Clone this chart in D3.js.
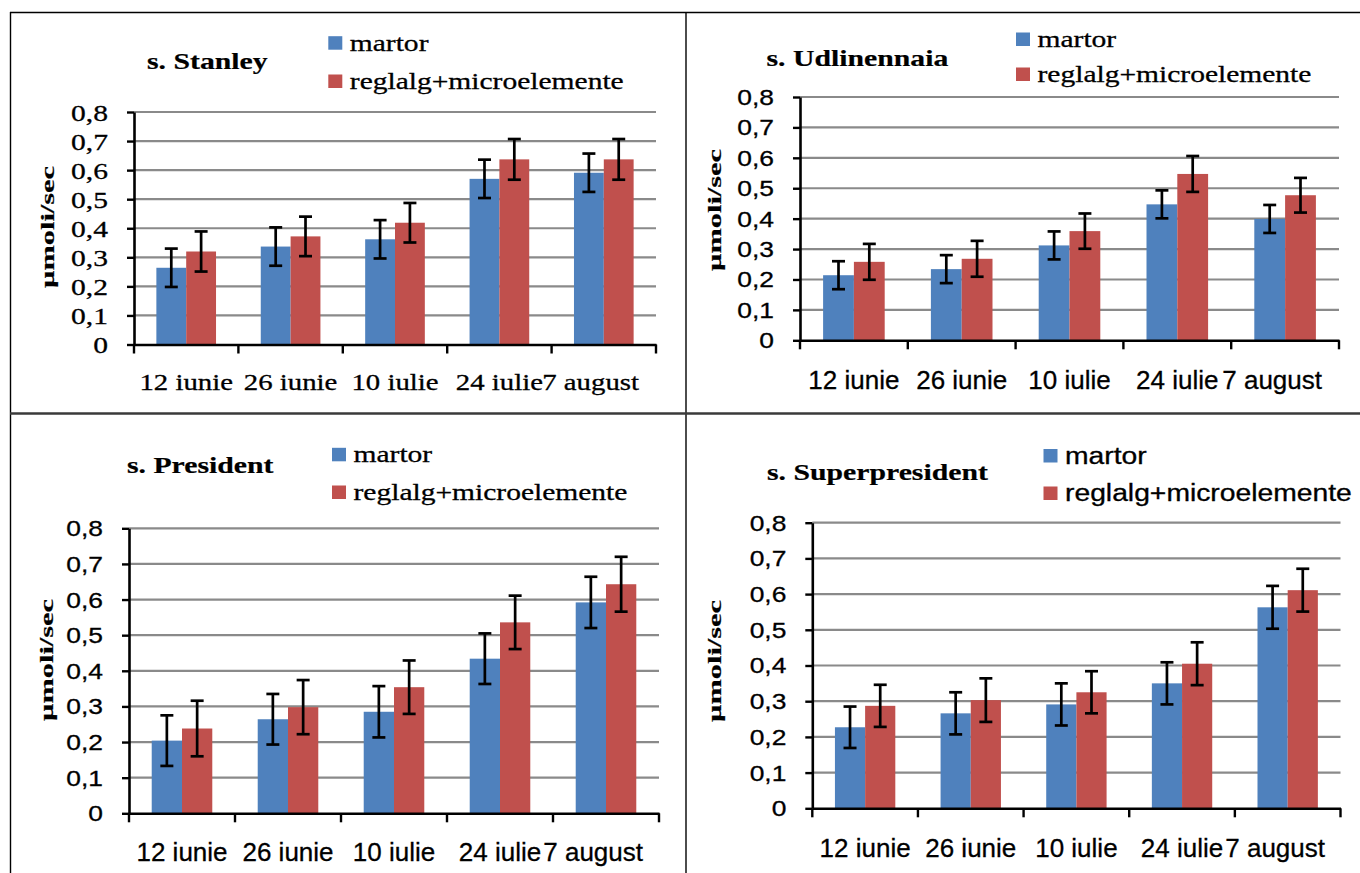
<!DOCTYPE html>
<html>
<head>
<meta charset="utf-8">
<script src="https://cdn.jsdelivr.net/npm/d3@7"></script>
<style>
  body { margin: 0; background: #fff; }
  svg { display: block; }
</style>
</head>
<body>
<svg width="1360" height="873"></svg>
<script>
// categories and labels
const categories = ["12 iunie", "26 iunie", "10 iulie", "24 iulie", "7 august"];
const seriesNames = ["martor", "reglalg+microelemente"];
const yTickValues = [0, 0.1, 0.2, 0.3, 0.4, 0.5, 0.6, 0.7, 0.8];
const yTickLabels = ["0", "0,1", "0,2", "0,3", "0,4", "0,5", "0,6", "0,7", "0,8"];

// s. Stanley
const stanleyMartor = [0.264, 0.337, 0.362, 0.570, 0.591];
const stanleyReglalg = [0.320, 0.372, 0.419, 0.637, 0.637];
const stanleyErrMartor = [0.066, 0.066, 0.066, 0.066, 0.066];
const stanleyErrReglalg = [0.069, 0.068, 0.068, 0.070, 0.070];

// s. Udlinennaia
const udlMartor = [0.214, 0.234, 0.312, 0.447, 0.399];
const udlReglalg = [0.258, 0.268, 0.359, 0.547, 0.477];
const udlErrMartor = [0.046, 0.046, 0.046, 0.046, 0.046];
const udlErrReglalg = [0.059, 0.059, 0.058, 0.059, 0.057];

// s. President
const presMartor = [0.204, 0.264, 0.285, 0.434, 0.592];
const presReglalg = [0.238, 0.298, 0.354, 0.536, 0.643];
const presErrMartor = [0.071, 0.071, 0.072, 0.071, 0.072];
const presErrReglalg = [0.078, 0.076, 0.075, 0.075, 0.077];

// s. Superpresident
const supMartor = [0.227, 0.266, 0.291, 0.350, 0.563];
const supReglalg = [0.287, 0.303, 0.325, 0.405, 0.611];
const supErrMartor = [0.058, 0.059, 0.059, 0.059, 0.060];
const supErrReglalg = [0.059, 0.061, 0.059, 0.060, 0.060];

const colors = ["#4f81bd", "#c0504d"];
const SERIF = "'Liberation Serif','Times New Roman',serif";
const SANS = "'Liberation Sans',Arial,sans-serif";

// text styles (the picture is stretched sideways, so text gets a scaleX)
const serifText = { f: SERIF, s: 24, sx: 1.23 };
const serifX = { f: SERIF, s: 24, sx: 1.2 };
const sansTick = { f: SANS, s: 22, sx: 1.2 };
const sansX = { f: SANS, s: 26, sx: 1.0 };
const sansLegend = { f: SANS, s: 23, sx: 1.23 };
const titleText = { f: SERIF, s: 24, sx: 1.24 };

const panels = [
  { title: "s. Stanley", values: [stanleyMartor, stanleyReglalg], errors: [stanleyErrMartor, stanleyErrReglalg],
    x0: 134, x1: 656, y0: 344.5, y1: 112, titleX: 147, titleY: 68.7, yTitleX: 54, yTitleY: 227,
    legX: 328.3, legBottom: [49.7, 88], xLabelY: 390, xLabelMax: 639,
    tick: serifText, xlab: serifX, leg: serifText },
  { title: "s. Udlinennaia", values: [udlMartor, udlReglalg], errors: [udlErrMartor, udlErrReglalg],
    x0: 800, x1: 1339, y0: 340.3, y1: 97, titleX: 766.5, titleY: 66, yTitleX: 721, yTitleY: 210,
    legX: 1016, legBottom: [46, 81], xLabelY: 389, xLabelMax: 1322,
    tick: sansTick, xlab: sansX, leg: serifText },
  { title: "s. President", values: [presMartor, presReglalg], errors: [presErrMartor, presErrReglalg],
    x0: 129, x1: 659, y0: 813.3, y1: 528.3, titleX: 127, titleY: 473, yTitleX: 53, yTitleY: 660,
    legX: 332, legBottom: [461.3, 499], xLabelY: 861, xLabelMax: 643,
    tick: sansTick, xlab: sansX, leg: serifText },
  { title: "s. Superpresident", values: [supMartor, supReglalg], errors: [supErrMartor, supErrReglalg],
    x0: 812.3, x1: 1340.5, y0: 808.3, y1: 522.7, titleX: 767, titleY: 479.5, yTitleX: 721, yTitleY: 661,
    legX: 1043.5, legBottom: [462.5, 500], xLabelY: 857, xLabelMax: 1325,
    tick: sansTick, xlab: sansX, leg: sansLegend }
];

const svg = d3.select("svg");

// table borders
const borders = svg.append("g").attr("stroke", "#000");
borders.append("line").attr("x1", 10).attr("x2", 1360).attr("y1", 12.5).attr("y2", 12.5).attr("stroke-width", 1.6);
borders.append("line").attr("x1", 10.5).attr("x2", 10.5).attr("y1", 12).attr("y2", 873).attr("stroke-width", 1.4);
borders.append("line").attr("x1", 686).attr("x2", 686).attr("y1", 12).attr("y2", 873).attr("stroke-width", 1.4);
borders.append("line").attr("x1", 10).attr("x2", 1360).attr("y1", 413.5).attr("y2", 413.5)
  .attr("stroke-width", 2.6).attr("stroke", "#3a3a3a");

function addText(g, str, x, y, st, anchor, weight) {
  return g.append("text")
    .attr("transform", `translate(${x},${y}) scale(${st.sx},1)`)
    .attr("font-family", st.f)
    .attr("font-size", st.s)
    .attr("font-weight", weight || "normal")
    .attr("text-anchor", anchor || "start")
    .attr("fill", "#000")
    .attr("stroke", "#000").attr("stroke-width", weight ? 0.2 : 0.3)
    .text(str);
}

function drawPanel(p) {
  const g = svg.append("g");

  const x = d3.scaleBand().domain(categories).range([p.x0, p.x1]);
  const xs = d3.scaleBand().domain(seriesNames).range([0, x.bandwidth()]).paddingOuter(0.75);
  const y = d3.scaleLinear().domain([0, 0.8]).range([p.y0, p.y1]);

  // gridlines
  g.append("g").selectAll("line")
    .data(yTickValues.filter(v => v > 0))
    .join("line")
    .attr("x1", p.x0).attr("x2", p.x1)
    .attr("y1", d => y(d)).attr("y2", d => y(d))
    .attr("stroke", "#8a8a8a").attr("stroke-width", 2.2);

  // bars
  seriesNames.forEach((s, si) => {
    g.append("g").selectAll("rect")
      .data(categories)
      .join("rect")
      .attr("x", (c) => x(c) + xs(s))
      .attr("y", (c, i) => y(p.values[si][i]))
      .attr("width", xs.bandwidth())
      .attr("height", (c, i) => y(0) - y(p.values[si][i]))
      .attr("fill", colors[si]);
  });

  // error bars
  seriesNames.forEach((s, si) => {
    const eg = g.append("g").attr("stroke", "#000").attr("stroke-width", 2.7);
    categories.forEach((c, i) => {
      const cx = x(c) + xs(s) + xs.bandwidth() / 2;
      const v = p.values[si][i], e = p.errors[si][i];
      eg.append("line").attr("x1", cx).attr("x2", cx).attr("y1", y(v + e)).attr("y2", y(v - e));
      eg.append("line").attr("x1", cx - 6.5).attr("x2", cx + 6.5).attr("y1", y(v + e)).attr("y2", y(v + e));
      eg.append("line").attr("x1", cx - 6.5).attr("x2", cx + 6.5).attr("y1", y(v - e)).attr("y2", y(v - e));
    });
  });

  // y axis
  const yAxis = g.append("g")
    .attr("transform", `translate(${p.x0},0)`)
    .call(d3.axisLeft(y).tickValues(yTickValues).tickFormat((d, i) => yTickLabels[i])
      .tickSize(7).tickSizeOuter(0));
  yAxis.select(".domain").attr("stroke", "#000").attr("stroke-width", 2.6);
  yAxis.selectAll(".tick line").attr("stroke", "#000").attr("stroke-width", 2.4);
  yAxis.selectAll(".tick text")
    .attr("x", -26 / p.tick.sx)
    .attr("dy", "0.34em")
    .attr("transform", `scale(${p.tick.sx},1)`)
    .attr("font-family", p.tick.f)
    .attr("font-size", p.tick.s)
    .attr("fill", "#000")
    .attr("stroke", "#000").attr("stroke-width", 0.3);

  // x axis
  const xAxis = g.append("g")
    .attr("transform", `translate(0,${p.y0})`)
    .call(d3.axisBottom(x).tickSize(0).tickSizeOuter(0));
  xAxis.select(".domain").attr("stroke", "#000").attr("stroke-width", 2.6);
  xAxis.selectAll(".tick text")
    .attr("y", p.xLabelY - p.y0)
    .attr("dy", 0)
    .attr("transform", `scale(${p.xlab.sx},1)`)
    .attr("font-family", p.xlab.f)
    .attr("font-size", p.xlab.s)
    .attr("fill", "#000")
    .attr("stroke", "#000").attr("stroke-width", 0.3)
    .each(function (d) {
      // keep the last label inside the chart area, as the original does
      const w = this.getComputedTextLength() * p.xlab.sx;
      const over = x(d) + x.bandwidth() / 2 + w / 2 - p.xLabelMax;
      if (over > 0) d3.select(this).attr("x", -over / p.xlab.sx);
    });
  // category boundary ticks
  xAxis.append("g").selectAll("line")
    .data(categories.map(c => x(c)).concat([p.x1]))
    .join("line")
    .attr("x1", d => d).attr("x2", d => d)
    .attr("y1", 0).attr("y2", 9)
    .attr("stroke", "#000").attr("stroke-width", 2.4);

  // y axis title
  g.append("text")
    .attr("transform", `translate(${p.yTitleX},${p.yTitleY}) rotate(-90) scale(1.6,1)`)
    .attr("font-family", SERIF)
    .attr("font-size", 19)
    .attr("font-weight", "bold")
    .attr("text-anchor", "middle")
    .attr("stroke", "#000").attr("stroke-width", 0.2)
    .text("µmoli/sec");

  // chart title
  addText(g, p.title, p.titleX, p.titleY, titleText, "start", "bold");

  // legend
  seriesNames.forEach((s, si) => {
    g.append("rect")
      .attr("x", p.legX).attr("y", p.legBottom[si] - 13.5)
      .attr("width", 14).attr("height", 13.5)
      .attr("fill", colors[si]);
    addText(g, s, p.legX + 21.5, p.legBottom[si] + 1, p.leg, "start");
  });
}

panels.forEach(drawPanel);
</script>
</body>
</html>
